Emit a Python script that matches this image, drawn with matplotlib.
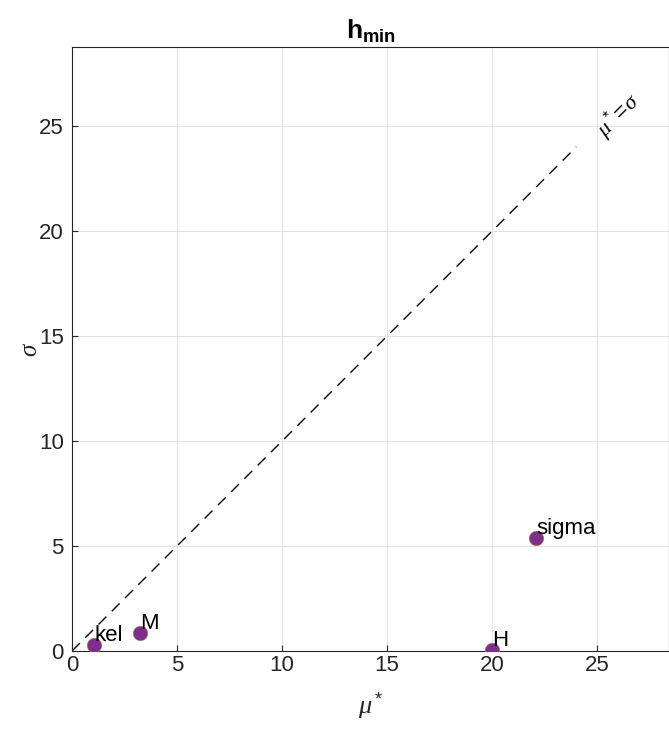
import matplotlib.pyplot as plt
import numpy as np

plt.rcParams['font.family'] = ['Liberation Sans', 'DejaVu Sans']
plt.rcParams['mathtext.fontset'] = 'custom'
plt.rcParams['mathtext.rm'] = 'Liberation Sans'
plt.rcParams['mathtext.it'] = 'Liberation Serif:italic'
plt.rcParams['mathtext.bf'] = 'Liberation Sans:bold'

# parametros e medidas de Morris (mu*, sigma)
nomes = ['kel', 'M', 'H', 'sigma']
mu_star = [1.05, 3.24, 20.0, 22.1]
sigma = [0.28, 0.86, 0.03, 5.38]

# linha de referencia mu* = sigma
ref = [0, 24]

cor_ponto = '#7E2F8E'
cor_eixo = '#262626'

fig = plt.figure(figsize=(6.69, 7.29), dpi=100)
ax = fig.add_axes([72 / 669, 78 / 729, 1 - 72 / 669 + 0.0005, 604 / 729])

ax.plot(ref, ref, linestyle=(0, (8, 5.5)), color='black', linewidth=1)
ax.scatter(mu_star, sigma, s=110, color=cor_ponto, edgecolors='#c08040',
           linewidths=0.4, zorder=3)
for nome, x, y in zip(nomes, mu_star, sigma):
    ax.annotate(nome, (x, y), xytext=(0, 3), textcoords='offset points',
                fontsize=16, ha='left', va='baseline', zorder=4)

ax.text(26.0, 25.5, r'$\mu^*\!=\!\sigma$', rotation=45, fontsize=16,
        ha='center', va='center')

ax.set_xlim(0, 28.43)
ax.set_ylim(0, 28.76)
ax.set_xticks(np.arange(0, 30, 5))
ax.set_yticks(np.arange(0, 30, 5))
ax.grid(True, color='#e3e3e3', linewidth=0.8)
ax.set_axisbelow(True)
ax.tick_params(direction='in', labelsize=16, colors=cor_eixo, length=4)
ax.tick_params(axis='x', pad=3)
ax.tick_params(axis='y', pad=6)
for s in ax.spines.values():
    s.set_color(cor_eixo)
    s.set_linewidth(0.8)

ax.set_title(r'$\mathbf{h_{min}}$', fontsize=19, pad=6)
ax.set_xlabel(r'$\mu^*$', fontsize=19, color=cor_eixo, labelpad=10)
ax.set_ylabel(r'$\sigma$', fontsize=18, color=cor_eixo, labelpad=14)
ax.yaxis.set_label_coords(-30 / 597, 0.5)

plt.savefig('out.png', dpi=100)
